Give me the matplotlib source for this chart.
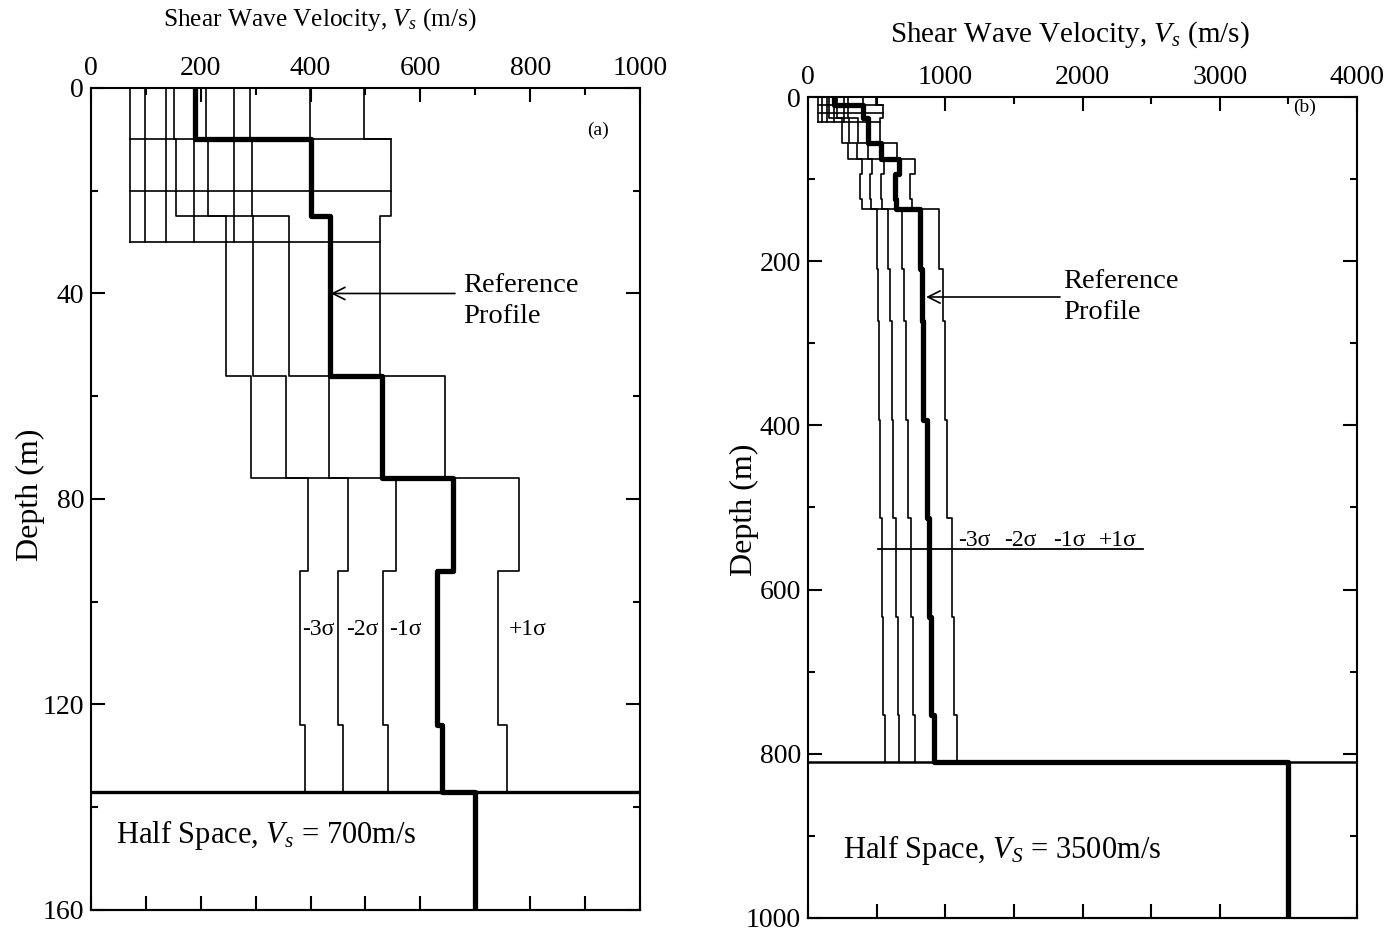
import numpy as np
import matplotlib
matplotlib.use("Agg")
import matplotlib.pyplot as plt
from matplotlib.ticker import MultipleLocator

plt.rcParams["font.family"] = ["Liberation Serif", "DejaVu Serif"]
plt.rcParams["mathtext.fontset"] = "custom"
plt.rcParams["mathtext.rm"] = "Liberation Serif"
plt.rcParams["mathtext.it"] = "Liberation Serif:italic"

# ---- upper 137 m layered model (shared by both panels) ----
layer_tops = [0, 10, 25, 56, 76, 94, 124]
upper_base = 137
ref_upper = [190, 400, 435, 530, 660, 630, 640]
minus3_upper = [152, 155, 246, 291, 396, 381, 390]
minus2_upper = [209, 214, 296, 356, 469, 450, 459]
minus1_upper = [290, 294, 361, 434, 556, 532, 541]
median_upper = [399, 400, 435, 530, 660, 630, 640]
plus1_upper = [498, 546, 527, 645, 780, 742, 757]

# shallow 0-30 m velocities and their layer breaks
shallow_base = 30
shallow_vs = [71, 98, 137, 188, 261]
shallow_breaks = [10, 20, 30]

# ---- deep gradient part of profile (b) ----
deep_tops = [137, 209, 273, 393, 513, 633, 753]
deep_base = 810
ref_deep = [816, 828, 840, 865, 882, 897, 918]
minus3_deep = [500, 512, 516, 525, 537, 549, 561]
minus2_deep = [585, 597, 608, 622, 639, 653, 664]
minus1_deep = [688, 699, 714, 731, 748, 767, 781]
plus1_deep = [957, 981, 995, 1010, 1047, 1062, 1083]

halfspace_a = 700
halfspace_b = 3500
depth_max_a = 160
depth_max_b = 1000

THIN = 1.2
THICK = 3.8


def staircase(tops, base, values):
    xs, ys = [], []
    bots = list(tops[1:]) + [base]
    for t, b, v in zip(tops, bots, values):
        xs += [v, v]
        ys += [t, b]
    return xs, ys


def value_at(tops, values, depth, below=True):
    idx = 0
    for i, t in enumerate(tops):
        if (t <= depth if below else t < depth):
            idx = i
    return values[idx]


def draw_shallow(ax, thin_profiles):
    for v in shallow_vs:
        ax.plot([v, v], [0, shallow_base], color="k", lw=THIN)
    for d in shallow_breaks:
        vals = list(shallow_vs)
        for prof in thin_profiles:
            vals.append(value_at(layer_tops, prof, d, below=True))
            vals.append(value_at(layer_tops, prof, d, below=False))
        ax.plot([min(vals), max(vals)], [d, d], color="k", lw=THIN)


def style_axes(ax, xmax, xmaj, xmin, bot_step, ymax, ymaj, ymin):
    ax.set_xlim(0, xmax)
    ax.set_ylim(ymax, 0)
    for s in ax.spines.values():
        s.set_linewidth(1.5)
    ax.xaxis.tick_top()
    ax.xaxis.set_label_position("top")
    ax.xaxis.set_major_locator(MultipleLocator(xmaj))
    ax.xaxis.set_minor_locator(MultipleLocator(xmin))
    ax.yaxis.set_major_locator(MultipleLocator(ymaj))
    ax.yaxis.set_minor_locator(MultipleLocator(ymin))
    ax.tick_params(axis="x", which="major", direction="in", length=10, width=1.5,
                   top=True, bottom=False, labeltop=True, labelbottom=False,
                   labelsize=20, pad=5)
    ax.tick_params(axis="x", which="minor", direction="in", length=5, width=1.5,
                   top=True, bottom=False)
    ax.tick_params(axis="y", which="major", direction="in", length=10, width=1.5,
                   left=True, right=True, labelsize=20, pad=5)
    ax.tick_params(axis="y", which="minor", direction="in", length=5, width=1.5,
                   left=True, right=True)
    sec = ax.secondary_xaxis("bottom")
    sec.set_xticks(np.arange(0, xmax + 1, bot_step))
    sec.set_xticklabels([])
    sec.tick_params(direction="in", length=10, width=1.5)
    sec.spines["bottom"].set_linewidth(1.5)


fig = plt.figure(figsize=(13.87, 9.31), dpi=100)

# ================= panel (a) =================
ax1 = fig.add_axes([0.0656, 0.0226, 0.3958, 0.8829])
thin_a = [minus3_upper, minus2_upper, minus1_upper, median_upper, plus1_upper]
for prof in thin_a:
    xs, ys = staircase(layer_tops, upper_base, prof)
    ax1.plot(xs, ys, color="k", lw=THIN)
draw_shallow(ax1, thin_a)
ax1.axhline(upper_base, color="k", lw=2.4)
xs, ys = staircase(layer_tops + [upper_base], depth_max_a, ref_upper + [halfspace_a])
ax1.plot(xs, ys, color="k", lw=THICK, solid_capstyle="round", solid_joinstyle="round")

style_axes(ax1, 1000, 200, 100, 100, depth_max_a, 40, 20)
ax1.set_xlabel("Shear Wave Velocity, $V_s$ (m/s)", fontsize=18.3, va="center")
ax1.xaxis.set_label_coords(0.417, 1.083)
ax1.set_ylabel("Depth (m)", fontsize=23, va="center")
ax1.yaxis.set_label_coords(-0.111, 0.505)

ax1.text(923, 8.2, "(a)", fontsize=14, ha="center", va="center")
ax1.annotate("", xy=(437, 40), xytext=(663, 40),
             arrowprops=dict(arrowstyle="->", lw=1.2, color="k",
                             mutation_scale=22, shrinkA=0, shrinkB=0))
ax1.text(678, 41.5, "Reference\nProfile", fontsize=20.5, ha="left", va="center",
         linespacing=1.3)
for lab, xv in [("-3σ", 415), ("-2σ", 495), ("-1σ", 573), ("+1σ", 795)]:
    ax1.text(xv, 105.5, lab, fontsize=17, ha="center", va="center")
ax1.text(46, 145.5, "Half Space, $V_s$ = 700m/s", fontsize=22, ha="left", va="center")

# ================= panel (b) =================
ax2 = fig.add_axes([0.5826, 0.0140, 0.3958, 0.8818])
tops_b = layer_tops + deep_tops
thin_b = [
    minus3_upper + minus3_deep,
    minus2_upper + minus2_deep,
    minus1_upper + minus1_deep,
    median_upper + ref_deep,
    plus1_upper + plus1_deep,
]
for prof in thin_b:
    xs, ys = staircase(tops_b, deep_base, prof)
    ax2.plot(xs, ys, color="k", lw=THIN)
draw_shallow(ax2, thin_a)
ax2.axhline(deep_base, color="k", lw=1.8)
xs, ys = staircase(tops_b + [deep_base], depth_max_b, ref_upper + ref_deep + [halfspace_b])
ax2.plot(xs, ys, color="k", lw=THICK, solid_capstyle="round", solid_joinstyle="round")

style_axes(ax2, 4000, 1000, 500, 500, depth_max_b, 200, 100)
ax2.set_xlabel("Shear Wave Velocity, $V_s$ (m/s)", fontsize=21, va="center")
ax2.xaxis.set_label_coords(0.477, 1.0755)
ax2.set_ylabel("Depth (m)", fontsize=23, va="center")
ax2.yaxis.set_label_coords(-0.115, 0.497)

ax2.text(3621, 12, "(b)", fontsize=14, ha="center", va="center")
ax2.annotate("", xy=(860, 243.6), xytext=(1836, 243.6),
             arrowprops=dict(arrowstyle="->", lw=1.2, color="k",
                             mutation_scale=22, shrinkA=0, shrinkB=0))
ax2.text(1858, 244, "Reference\nProfile", fontsize=20.5, ha="left", va="center",
         linespacing=1.3)
ax2.plot([512, 2443], [551, 551], color="k", lw=1.3)
for lab, xv in [("-3σ", 1212), ("-2σ", 1545), ("-1σ", 1905), ("+1σ", 2255)]:
    ax2.text(xv, 540, lab, fontsize=17, ha="center", va="center")
ax2.text(255, 917, "Half Space, $V_S$ = 3500m/s", fontsize=22, ha="left", va="center")

fig.savefig("out.png", dpi=100)
